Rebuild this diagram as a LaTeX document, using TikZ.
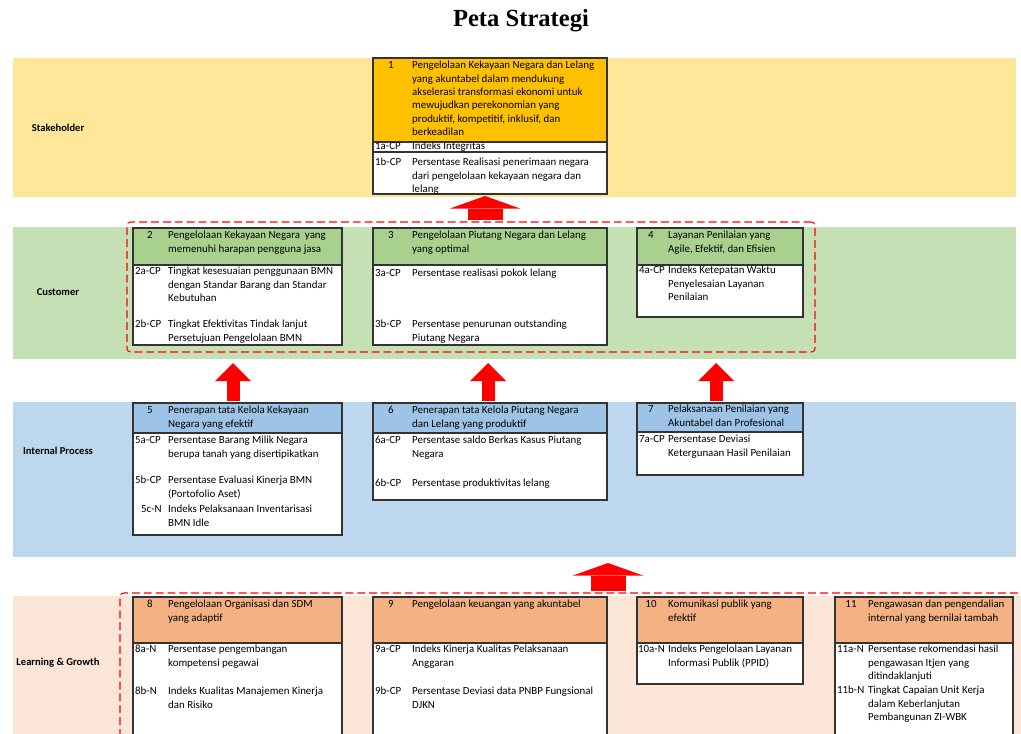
\documentclass[tikz,border=0pt]{standalone}
\usepackage{fontspec}
\setmainfont{Carlito}
\newfontfamily\titlefont{Liberation Serif}
\usetikzlibrary{arrows.meta,fit}

\definecolor{stakeband}{HTML}{FFE699}
\definecolor{stakehdr}{HTML}{FFC000}
\definecolor{custband}{HTML}{C5E0B4}
\definecolor{custhdr}{HTML}{A9D18E}
\definecolor{procband}{HTML}{BDD7EE}
\definecolor{prochdr}{HTML}{9DC3E6}
\definecolor{learnband}{HTML}{FBE5D6}
\definecolor{learnhdr}{HTML}{F4B183}
\definecolor{boxline}{HTML}{333333}

\tikzset{
  lane/.style={inner sep=0pt, outer sep=0pt},
  lanelabel/.style={inner sep=0pt, font=\fontsize{12}{14}\selectfont\bfseries},
  dashframe/.style={draw=red, dash pattern=on 9pt off 4.5pt, line width=1.2pt, rounded corners=4pt, inner sep=0pt},
  goalhdr/.style={draw=boxline, line width=1.2pt, inner sep=0pt, outer sep=0pt},
  goalbody/.style={draw=boxline, line width=1.2pt, fill=white, inner sep=0pt, outer sep=0pt},
  goalnum/.style={anchor=north, inner sep=0pt, font=\fontsize{12.4}{15.2}\selectfont},
  goaltext/.style={anchor=north west, inner sep=0pt, align=left, font=\fontsize{12.4}{15.2}\selectfont},
  kpicode/.style={anchor=north west, inner sep=0pt, font=\fontsize{12.4}{15.2}\selectfont},
  kpitext/.style={anchor=north west, inner sep=0pt, align=left, font=\fontsize{12.4}{15.2}\selectfont},
  liftarrow/.style={draw=red, line width=0.52cm, -{Triangle[width=1.44cm, length=0.72cm, line width=0pt]}},
  bigliftarrow/.style={draw=red, line width=1.4cm, -{Triangle[width=2.8cm, length=0.5cm, line width=0pt]}}
}

\begin{document}
\begin{tikzpicture}[x=0.04cm, y=-0.04cm]
  \useasboundingbox (0,0) rectangle (1021,733);
  \fill[white] (0,0) rectangle (1021,733);
  \clip (0,0) rectangle (1021,733);

  % Title
  \node[inner sep=0pt, font=\titlefont\bfseries\fontsize{28}{32}\selectfont] (title) at (521,21) {Peta Strategi};

  % Lanes
  \node[lane, fill=stakeband, fit={(13,58) (1016,197)}] (stakelane) {};
  \node[lane, fill=custband, fit={(13,227) (1016,359)}] (custlane) {};
  \node[lane, fill=procband, fit={(13,402) (1016,557)}] (proclane) {};
  \node[lane, fill=learnband, fit={(13,596) (1030,745)}] (learnlane) {};

  \node[lanelabel] (stakelbl) at (58,128) {Stakeholder};
  \node[lanelabel] (custlbl) at (58,292) {Customer};
  \node[lanelabel] (proclbl) at (58,451) {Internal Process};
  \node[lanelabel] (learnlbl) at (58,663) {Learning \& Growth};

  % Dashed groups
  \node[dashframe, fit={(127,222) (815,352)}] (custframe) {};
  \node[dashframe, fit={(120,593) (1045,760)}] (learnframe) {};

  % Stakeholder: goal 1
  \node[goalhdr, fill=stakehdr, fit={(373,58) (607,142)}] (b1h) {};
  \node[goalbody, fit={(373,142) (607,194)}] (b1b) {};
  \draw[boxline, line width=1.2pt] (b1b.west |- 0,152) -- (b1b.east |- 0,152);
  \node[goalnum] (n1) at (391,61) {1};
  \node[goaltext] (g1) at (412,61) {Pengelolaan Kekayaan Negara dan Lelang\\yang akuntabel dalam mendukung\\akselerasi transformasi ekonomi untuk\\mewujudkan perekonomian yang\\produktif, kompetitif, inklusif, dan\\berkeadilan};
  \node[kpicode] (c1a) at (375,142) {1a-CP};
  \node[kpitext] (k1a) at (412,142) {Indeks Integritas};
  \node[kpicode] (c1b) at (375,158) {1b-CP};
  \node[kpitext] (k1b) at (412,158) {Persentase Realisasi penerimaan negara\\dari pengelolaan kekayaan negara dan\\lelang};

  % Customer: goal 2
  \node[goalhdr, fill=custhdr, fit={(133,228) (342,265)}] (b2h) {};
  \node[goalbody, fit={(133,265) (342,345)}] (b2b) {};
  \node[goalnum] (n2) at (150,231) {2};
  \node[goaltext] (g2) at (168,231) {Pengelolaan Kekayaan Negara\ \ yang\\memenuhi harapan pengguna jasa};
  \node[kpicode] (c2a) at (135,267) {2a-CP};
  \node[kpitext] (k2a) at (168,267) {Tingkat kesesuaian penggunaan BMN\\dengan Standar Barang dan Standar\\Kebutuhan};
  \node[kpicode] (c2b) at (135,320) {2b-CP};
  \node[kpitext] (k2b) at (168,320) {Tingkat Efektivitas Tindak lanjut\\Persetujuan Pengelolaan BMN};

  % Customer: goal 3
  \node[goalhdr, fill=custhdr, fit={(373,228) (607,265)}] (b3h) {};
  \node[goalbody, fit={(373,265) (607,345)}] (b3b) {};
  \node[goalnum] (n3) at (391,231) {3};
  \node[goaltext] (g3) at (412,231) {Pengelolaan Piutang Negara dan Lelang\\yang optimal};
  \node[kpicode] (c3a) at (375,269) {3a-CP};
  \node[kpitext] (k3a) at (412,269) {Persentase realisasi pokok lelang};
  \node[kpicode] (c3b) at (375,320) {3b-CP};
  \node[kpitext] (k3b) at (412,320) {Persentase penurunan outstanding\\Piutang Negara};

  % Customer: goal 4
  \node[goalhdr, fill=custhdr, fit={(637,228) (803,265)}] (b4h) {};
  \node[goalbody, fit={(637,265) (803,317)}] (b4b) {};
  \node[goalnum] (n4) at (651,231) {4};
  \node[goaltext] (g4) at (668,231) {Layanan Penilaian yang\\Agile, Efektif, dan Efisien};
  \node[kpicode] (c4a) at (639,266) {4a-CP};
  \node[kpitext] (k4a) at (668,266) {Indeks Ketepatan Waktu\\Penyelesaian Layanan\\Penilaian};

  % Internal process: goal 5
  \node[goalhdr, fill=prochdr, fit={(133,403) (342,433)}] (b5h) {};
  \node[goalbody, fit={(133,433) (342,535)}] (b5b) {};
  \node[goalnum] (n5) at (150,406) {5};
  \node[goaltext] (g5) at (168,406) {Penerapan tata Kelola Kekayaan\\Negara yang efektif};
  \node[kpicode] (c5a) at (135,436) {5a-CP};
  \node[kpitext] (k5a) at (168,436) {Persentase Barang Milik Negara\\berupa tanah yang disertipikatkan};
  \node[kpicode] (c5b) at (135,476) {5b-CP};
  \node[kpitext] (k5b) at (168,476) {Persentase Evaluasi Kinerja BMN\\(Portofolio Aset)};
  \node[kpicode] (c5c) at (141,505) {5c-N};
  \node[kpitext] (k5c) at (168,505) {Indeks Pelaksanaan Inventarisasi\\BMN Idle};

  % Internal process: goal 6
  \node[goalhdr, fill=prochdr, fit={(373,403) (607,433)}] (b6h) {};
  \node[goalbody, fit={(373,433) (607,500)}] (b6b) {};
  \node[goalnum] (n6) at (391,406) {6};
  \node[goaltext] (g6) at (412,406) {Penerapan tata Kelola Piutang Negara\\dan Lelang yang produktif};
  \node[kpicode] (c6a) at (375,436) {6a-CP};
  \node[kpitext] (k6a) at (412,436) {Persentase saldo Berkas Kasus Piutang\\Negara};
  \node[kpicode] (c6b) at (375,479) {6b-CP};
  \node[kpitext] (k6b) at (412,479) {Persentase produktivitas lelang};

  % Internal process: goal 7
  \node[goalhdr, fill=prochdr, fit={(637,403) (803,432)}] (b7h) {};
  \node[goalbody, fit={(637,432) (803,475)}] (b7b) {};
  \node[goalnum] (n7) at (651,405) {7};
  \node[goaltext] (g7) at (668,405) {Pelaksanaan Penilaian yang\\Akuntabel dan Profesional};
  \node[kpicode] (c7a) at (639,435) {7a-CP};
  \node[kpitext] (k7a) at (668,435) {Persentase Deviasi\\Ketergunaan Hasil Penilaian};

  % Learning & growth: goal 8
  \node[goalhdr, fill=learnhdr, fit={(133,597) (342,643)}] (b8h) {};
  \node[goalbody, fit={(133,643) (342,745)}] (b8b) {};
  \node[goalnum] (n8) at (150,600) {8};
  \node[goaltext] (g8) at (168,600) {Pengelolaan Organisasi dan SDM\\yang adaptif};
  \node[kpicode] (c8a) at (135,645) {8a-N};
  \node[kpitext] (k8a) at (168,645) {Persentase pengembangan\\kompetensi pegawai};
  \node[kpicode] (c8b) at (135,687) {8b-N};
  \node[kpitext] (k8b) at (168,687) {Indeks Kualitas Manajemen Kinerja\\dan Risiko};

  % Learning & growth: goal 9
  \node[goalhdr, fill=learnhdr, fit={(373,597) (607,643)}] (b9h) {};
  \node[goalbody, fit={(373,643) (607,745)}] (b9b) {};
  \node[goalnum] (n9) at (391,600) {9};
  \node[goaltext] (g9) at (412,600) {Pengelolaan keuangan yang akuntabel};
  \node[kpicode] (c9a) at (375,645) {9a-CP};
  \node[kpitext] (k9a) at (412,645) {Indeks Kinerja Kualitas Pelaksanaan\\Anggaran};
  \node[kpicode] (c9b) at (375,687) {9b-CP};
  \node[kpitext] (k9b) at (412,687) {Persentase Deviasi data PNBP Fungsional\\DJKN};

  % Learning & growth: goal 10
  \node[goalhdr, fill=learnhdr, fit={(637,597) (803,643)}] (b10h) {};
  \node[goalbody, fit={(637,643) (803,684)}] (b10b) {};
  \node[goalnum] (n10) at (651,600) {10};
  \node[goaltext] (g10) at (668,600) {Komunikasi publik yang\\efektif};
  \node[kpicode] (c10a) at (638,645) {10a-N};
  \node[kpitext] (k10a) at (668,645) {Indeks Pengelolaan Layanan\\Informasi Publik (PPID)};

  % Learning & growth: goal 11
  \node[goalhdr, fill=learnhdr, fit={(835,597) (1013,643)}] (b11h) {};
  \node[goalbody, fit={(835,643) (1013,745)}] (b11b) {};
  \node[goalnum] (n11) at (851,600) {11};
  \node[goaltext] (g11) at (868,600) {Pengawasan dan pengendalian\\internal yang bernilai tambah};
  \node[kpicode] (c11a) at (837,645) {11a-N};
  \node[kpitext] (k11a) at (868,645) {Persentase rekomendasi hasil\\pengawasan Itjen yang\\ditindaklanjuti};
  \node[kpicode] (c11b) at (837,686) {11b-N};
  \node[kpitext] (k11b) at (868,686) {Tingkat Capaian Unit Kerja\\dalam Keberlanjutan\\Pembangunan ZI-WBK};

  % Arrows between perspectives
  \coordinate (liftS) at (485,220);
  \draw[bigliftarrow, shorten >=0.08cm] (liftS) -- (liftS |- b1b.south);
  \coordinate (lift5) at (233,401);
  \coordinate (lift6) at (488,401);
  \coordinate (lift7) at (716,401);
  \draw[liftarrow, shorten >=0.16cm] (lift5) -- (lift5 |- custlane.south);
  \draw[liftarrow, shorten >=0.16cm] (lift6) -- (lift6 |- custlane.south);
  \draw[liftarrow, shorten >=0.16cm] (lift7) -- (lift7 |- custlane.south);
  \coordinate (liftL) at (608,591);
  \draw[bigliftarrow, shorten >=0.24cm] (liftL) -- (liftL |- proclane.south);
\end{tikzpicture}
\end{document}
